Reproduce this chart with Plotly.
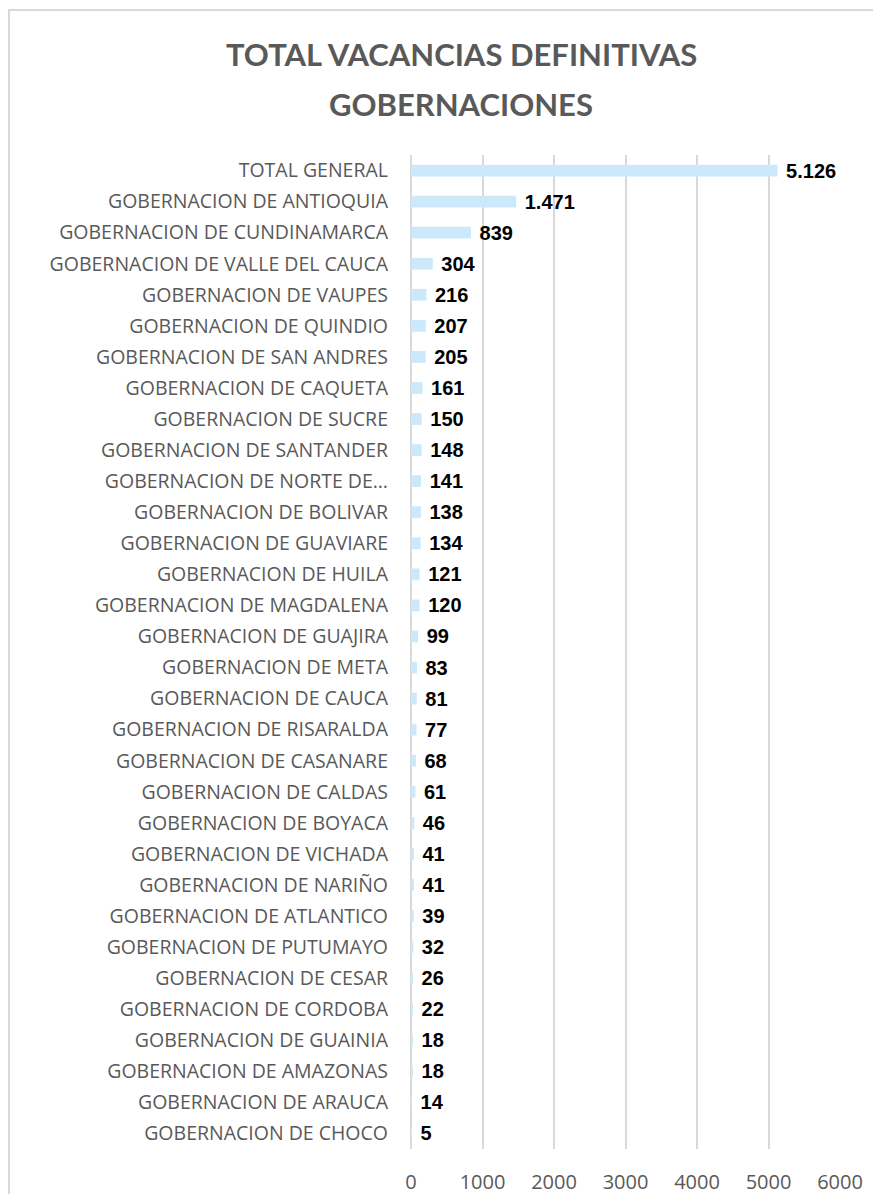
import plotly.graph_objects as go

categories = [
    "TOTAL GENERAL",
    "GOBERNACION DE ANTIOQUIA",
    "GOBERNACION DE CUNDINAMARCA",
    "GOBERNACION DE VALLE DEL CAUCA",
    "GOBERNACION DE VAUPES",
    "GOBERNACION DE QUINDIO",
    "GOBERNACION DE SAN ANDRES",
    "GOBERNACION DE CAQUETA",
    "GOBERNACION DE SUCRE",
    "GOBERNACION DE SANTANDER",
    "GOBERNACION DE NORTE DE…",
    "GOBERNACION DE BOLIVAR",
    "GOBERNACION DE GUAVIARE",
    "GOBERNACION DE HUILA",
    "GOBERNACION DE MAGDALENA",
    "GOBERNACION DE GUAJIRA",
    "GOBERNACION DE META",
    "GOBERNACION DE CAUCA",
    "GOBERNACION DE RISARALDA",
    "GOBERNACION DE CASANARE",
    "GOBERNACION DE CALDAS",
    "GOBERNACION DE BOYACA",
    "GOBERNACION DE VICHADA",
    "GOBERNACION DE NARIÑO",
    "GOBERNACION DE ATLANTICO",
    "GOBERNACION DE PUTUMAYO",
    "GOBERNACION DE CESAR",
    "GOBERNACION DE CORDOBA",
    "GOBERNACION DE GUAINIA",
    "GOBERNACION DE AMAZONAS",
    "GOBERNACION DE ARAUCA",
    "GOBERNACION DE CHOCO",
]
values = [5126, 1471, 839, 304, 216, 207, 205, 161, 150, 148, 141, 138, 134, 121,
          120, 99, 83, 81, 77, 68, 61, 46, 41, 41, 39, 32, 26, 22, 18, 18, 14, 5]
x_ticks = [0, 1000, 2000, 3000, 4000, 5000, 6000]
title_lines = ["TOTAL VACANCIAS DEFINITIVAS", "GOBERNACIONES"]

# figure size (page has an 8px body margin)
W, H = 865, 1186
ml, mr, mt, mb = 403, 33, 147, 45
pw, ph = W - ml - mr, H - mt - mb


def px_x(x):
    return (x - ml) / pw


def px_y(y):
    return 1 - (y - mt) / ph


fig = go.Figure(go.Bar(
    x=values,
    y=categories,
    orientation="h",
    width=0.38,
    marker=dict(color="#CCE9FC", line=dict(width=0)),
    texttemplate="\u00a0%{x:,}",
    textposition="outside",
    constraintext="none",
    cliponaxis=False,
    textfont=dict(family="Liberation Sans, Arial", size=20, color="#000000", weight="bold"),
    hoverinfo="skip",
))

title_font = dict(family="Lato, sans-serif", size=31, color="#595959", weight="bold")
annotations = [
    dict(text=title_lines[0], xref="paper", yref="paper", x=px_x(453), y=px_y(46),
         xanchor="center", yanchor="middle", showarrow=False, font=title_font),
    dict(text=title_lines[1], xref="paper", yref="paper", x=px_x(453), y=px_y(96),
         xanchor="center", yanchor="middle", showarrow=False, font=title_font),
]

fig.update_layout(
    width=W, height=H,
    margin=dict(l=ml, r=mr, t=mt, b=mb, autoexpand=False),
    paper_bgcolor="white",
    plot_bgcolor="white",
    separators=",.",
    showlegend=False,
    annotations=annotations,
    xaxis=dict(
        range=[0, 6000],
        tickvals=x_ticks,
        showgrid=True, gridcolor="#D9D9D9", gridwidth=2,
        zeroline=True, zerolinecolor="#D9D9D9", zerolinewidth=2,
        showline=False, automargin=False,
        ticks="", ticklabelstandoff=19,
        tickfont=dict(family="Open Sans, sans-serif", size=20, color="#595959"),
        fixedrange=True,
    ),
    yaxis=dict(
        autorange="reversed",
        categoryorder="array", categoryarray=categories,
        showgrid=False, showline=False, zeroline=False, automargin=False,
        ticks="", ticklabelstandoff=22,
        tickfont=dict(family="Open Sans, sans-serif", size=19.5, color="#595959"),
        fixedrange=True,
    ),
    shapes=[dict(
        type="rect", xref="paper", yref="paper",
        x0=px_x(1), x1=px_x(W + 20),
        y0=px_y(H + 20), y1=px_y(2),
        line=dict(color="#D9D9D9", width=2), fillcolor="rgba(0,0,0,0)", layer="below",
    )],
)

fig.write_html("out.html")
